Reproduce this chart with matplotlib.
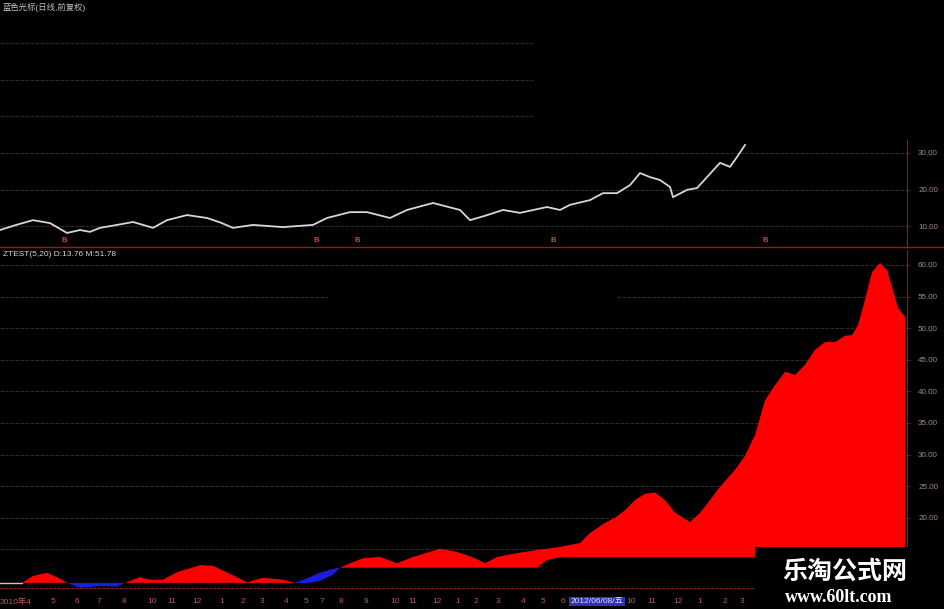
import numpy as np
import matplotlib.pyplot as plt
from matplotlib.lines import Line2D
from matplotlib.patches import Rectangle

plt.rcParams['font.family'] = ['Liberation Sans', 'Noto Sans CJK SC', 'DejaVu Sans']

# 主图: 收盘价 (按K线序号)
price_bar = [0, 15, 33, 50, 67, 80, 90, 100, 117, 133, 153, 167, 187, 207, 220, 233,
             253, 283, 313, 327, 350, 367, 390, 407, 433, 460, 470, 485, 503, 520,
             547, 560, 570, 590, 603, 617, 630, 640, 650, 660, 670, 673, 687, 697,
             707, 720, 730, 737, 745]
price_close = [8.9, 10.2, 11.6, 10.8, 8.1, 8.9, 8.4, 9.5, 10.3, 11.1, 9.5, 11.6, 13.0,
               12.2, 11.0, 9.5, 10.3, 9.7, 10.3, 12.2, 13.8, 13.8, 12.2, 14.4, 16.3,
               14.4, 11.6, 12.8, 14.4, 13.6, 15.2, 14.4, 15.8, 17.1, 19.0, 19.0, 21.2,
               24.5, 23.4, 22.6, 20.7, 17.9, 19.9, 20.4, 23.4, 27.3, 26.2, 28.9, 32.2]

# 买点信号 B
signal_bar = [64, 316, 357, 553, 765]

# 副图 ZTEST(5,20): M 与 D
ind_bar = [0, 22, 33, 47, 57, 67, 80, 100, 117, 125, 140, 150, 163, 177, 200, 213,
           233, 247, 263, 283, 295, 305, 320, 333, 340, 350, 363, 380, 397, 413, 440,
           457, 475, 485, 497, 513, 537, 547, 560, 580, 590, 605, 615, 625, 635, 645,
           655, 665, 675, 690, 700, 710, 720, 735, 745, 755, 765, 775, 785, 795, 805,
           815, 825, 835, 845, 852, 858, 865, 872, 880, 887, 893, 898, 905]
ind_m = [9.7, 9.7, 10.8, 11.3, 10.6, 9.7, 8.9, 9.2, 9.1, 9.7, 10.6, 10.2, 10.2, 11.4,
         12.5, 12.4, 10.9, 9.8, 10.5, 10.2, 9.7, 9.6, 10.0, 11.0, 12.1, 12.8, 13.6, 13.8,
         12.8, 13.8, 15.1, 14.6, 13.6, 12.8, 13.8, 14.3, 14.9, 15.1, 15.4, 16.0, 17.6,
         19.2, 20.0, 21.2, 22.8, 23.8, 24.0, 22.8, 20.8, 19.3, 20.8, 22.8, 24.9, 27.6,
         29.8, 33.1, 38.6, 41.0, 43.1, 42.6, 44.2, 46.6, 47.8, 47.8, 48.8, 48.9, 50.5,
         54.5, 58.9, 60.3, 59.2, 56.0, 53.2, 51.78]
ind_d = [9.7, 9.7, 9.7, 9.7, 9.7, 9.7, 9.7, 9.7, 9.7, 9.7, 9.7, 9.7, 9.7, 9.7,
         9.7, 9.7, 9.7, 9.7, 9.7, 9.7, 9.7, 10.3, 11.3, 11.9, 12.1, 12.1, 12.1, 12.1,
         12.1, 12.1, 12.1, 12.1, 12.1, 12.1, 12.1, 12.1, 12.1, 13.3, 13.76, 13.76, 13.76,
         13.76, 13.76, 13.76, 13.76, 13.76, 13.76, 13.76, 13.76, 13.76, 13.76, 13.76,
         13.76, 13.76, 13.76, 13.76, 13.76, 13.76, 13.76, 13.76, 13.76, 13.76, 13.76,
         13.76, 13.76, 13.76, 13.76, 13.76, 13.76, 13.76, 13.76, 13.76, 13.76, 13.76]

price_ticks = [10, 20, 30]
price_grid = [40, 50, 60]
ind_ticks = [15, 20, 25, 30, 35, 40, 45, 50, 55, 60]

date_pos = [16, 53, 77, 99, 124, 152, 172, 197, 222, 243, 262, 286, 306, 322, 341,
            366, 395, 413, 437, 458, 476, 498, 523, 543, 563, 631, 652, 678, 700, 725, 742]
date_lbl = ['2010年4', '5', '6', '7', '8', '10', '11', '12', '1', '2', '3', '4', '5', '7',
            '8', '9', '10', '11', '12', '1', '2', '3', '4', '5', '6', '10', '11', '12',
            '1', '2', '3']
cursor_date = '2012/06/08/五'
cursor_pos = 597

RED = '#ff0000'
AXRED = '#8c1c1c'
GRID = '#2e2626'
TICKC = '#a88888'

fig = plt.figure(figsize=(9.45, 6.09), dpi=100, facecolor='black')
ax1 = fig.add_axes([0, 0.5944, 0.9598, 0.381])
ax2 = fig.add_axes([0, 0.0345, 0.9598, 0.555])

for ax in (ax1, ax2):
    ax.set_facecolor('black')
    ax.set_xlim(0, 907)
    ax.spines['top'].set_visible(False)
    ax.spines['left'].set_visible(False)
    ax.spines['right'].set_color(AXRED)
    ax.yaxis.tick_right()
    ax.tick_params(axis='y', colors=AXRED, labelcolor=TICKC, labelsize=5.8,
                   length=2, width=0.6, pad=6)

# 主图
ax1.set_ylim(4.25, 67.8)
for v in price_ticks:
    ax1.axhline(v, color=GRID, lw=0.9, ls=(0, (3, 1)), zorder=0)
for v in price_grid:
    ax1.axhline(v, xmax=533 / 907, color=GRID, lw=0.9, ls=(0, (3, 1)), zorder=0)
ax1.plot(price_bar, price_close, color='#dcd4d4', lw=1.3, zorder=3)
for b in signal_bar:
    ax1.text(b, 5.9, 'B', color='#ff3030', fontsize=5.5, fontweight='bold',
             ha='center', va='center')
ax1.set_yticks(price_ticks)
ax1.set_yticklabels([f'{v:.2f}' for v in price_ticks])
ax1.set_xticks([])
ax1.spines['bottom'].set_color('#a01818')
ax1.spines['bottom'].set_linewidth(1.0)
ax1.spines['right'].set_bounds(4.25, 33.5)

# 副图
ax2.set_ylim(8.89, 62.37)
for v in ind_ticks:
    if v == 55:
        ax2.axhline(v, xmax=328 / 907, color=GRID, lw=0.9, ls=(0, (3, 1)), zorder=0)
        ax2.axhline(v, xmin=617 / 907, color=GRID, lw=0.9, ls=(0, (3, 1)), zorder=0)
    else:
        ax2.axhline(v, color=GRID, lw=0.9, ls=(0, (3, 1)), zorder=0)
m = np.array(ind_m)
d = np.array(ind_d)
ax2.fill_between(ind_bar[1:], m[1:], d[1:], where=m[1:] >= d[1:], interpolate=True,
                 color=RED, lw=0, zorder=2)
ax2.fill_between(ind_bar[1:], m[1:], d[1:], where=m[1:] <= d[1:], interpolate=True,
                 color='#1c1ce0', lw=0, zorder=2)
ax2.plot(ind_bar[:2], ind_d[:2], color='#c8c8c8', lw=1.0, zorder=3)
ax2.set_yticks(ind_ticks)
ax2.set_yticklabels([f'{v:.2f}' for v in ind_ticks])
ax2.spines['bottom'].set_color(AXRED)
ax2.spines['bottom'].set_linestyle((0, (2, 2)))
ax2.set_xticks(date_pos)
ax2.set_xticklabels(date_lbl)
ax2.tick_params(axis='x', length=0, pad=7, labelsize=6, labelcolor='#b85a5a')
ax2.text(cursor_pos, -0.04, cursor_date, transform=ax2.get_xaxis_transform(),
         fontsize=6, color='#e0e0ff', ha='center', va='center',
         bbox=dict(boxstyle='square,pad=0.15', fc='#3030b0', ec='none'))

# 标题
fig.text(0.003, 0.987, '蓝色光标(日线,前复权)', color='#c0c0c0', fontsize=6,
         ha='left', va='center')
fig.text(0.003, 0.582, 'ZTEST(5,20) D:13.76 M:51.78', color='#d8d8d8', fontsize=6,
         ha='left', va='center')
fig.add_artist(Line2D([0.9598, 1.0], [0.5944, 0.5944], color='#a01818', lw=1.0))

# 水印
fig.add_artist(Rectangle((755 / 945, 0), 190 / 945, 62 / 609, transform=fig.transFigure,
                         facecolor='black', edgecolor='none', zorder=10))
fig.text(0.894, 0.061, '乐淘公式网', color='white', fontsize=18, fontweight='bold',
         family=['Noto Sans CJK SC'], ha='center', va='center', zorder=11)
fig.text(0.888, 0.019, 'www.60lt.com', color='white', fontsize=13, fontweight='bold',
         family=['Liberation Serif'], ha='center', va='center', zorder=11)

fig.savefig('out.png', dpi=100, facecolor='black')
